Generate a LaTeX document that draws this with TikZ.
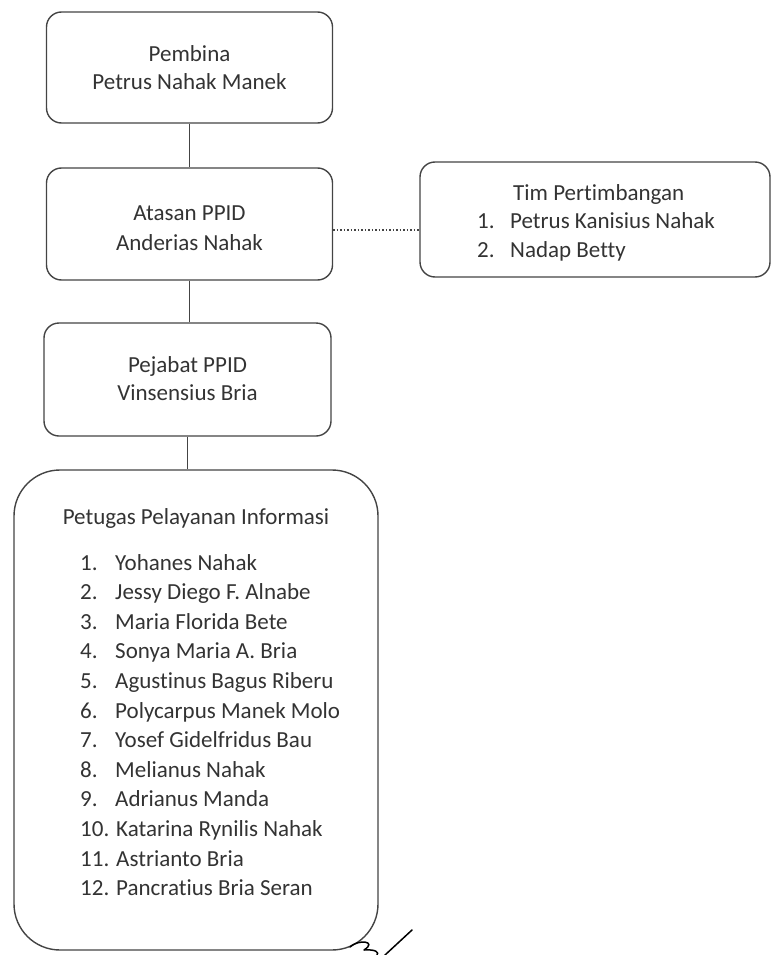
\documentclass[tikz,border=0pt]{standalone}
\usepackage{fontspec}
\setmainfont{Carlito}[Ligatures={NoCommon}]
\definecolor{ink}{HTML}{333333}
\definecolor{edge}{HTML}{444444}
\begin{document}
\begin{tikzpicture}[x=1pt,y=-1pt,
  box/.style={draw=edge, line width=1.4pt, rounded corners=15pt, inner sep=0pt},
  bigbox/.style={draw=edge, line width=1.4pt, rounded corners=46pt, inner sep=0pt},
  txt/.style={anchor=base, text=ink, inner sep=0pt, font=\fontsize{23}{29.6}\selectfont},
  ltxt/.style={txt, anchor=base west},
  conn/.style={draw=edge, line width=0.9pt}]
\useasboundingbox (0,0) rectangle (772,955);

% boxes
\node[box, minimum width=286pt, minimum height=111pt] (pembina) at (189.5,67.5) {};
\node[box, minimum width=286pt, minimum height=112pt] (atasan) at (189.5,224) {};
\node[box, minimum width=350pt, minimum height=115pt] (tim) at (595,219.5) {};
\node[box, minimum width=287pt, minimum height=113pt] (pejabat) at (187.5,379.5) {};
\node[bigbox, minimum width=364pt, minimum height=480pt] (petugas) at (196,710) {};

% texts
\node[txt] (t1a) at (189.5,62) {Pembina};
\node[txt] (t1b) at (189.5,90) {Petrus Nahak Manek};
\node[txt] (t2a) at (189.5,220) {Atasan PPID};
\node[txt] (t2b) at (189.5,250) {Anderias Nahak};
\node[txt] (t4a) at (187.5,372) {Pejabat PPID};
\node[txt] (t4b) at (187.5,400) {Vinsensius Bria};

\node[ltxt] (t3h) at (513,200) {Tim Pertimbangan};
\node[ltxt] (t3n1) at (477,228) {1.};
\node[ltxt] (t3a1) at (510,228) {Petrus Kanisius Nahak};
\node[ltxt] (t3n2) at (477,257) {2.};
\node[ltxt] (t3a2) at (510,257) {Nadap Betty};

\node[txt] (t5h) at (196,524) {Petugas Pelayanan Informasi};
\foreach \i/\name in {1/Yohanes Nahak, 2/Jessy Diego F. Alnabe, 3/Maria Florida Bete, 4/Sonya Maria A. Bria, 5/Agustinus Bagus Riberu, 6/Polycarpus Manek Molo, 7/Yosef Gidelfridus Bau, 8/Melianus Nahak, 9/Adrianus Manda}{
  \node[ltxt] (n\i) at (80,{570+(\i-1)*29.6}) {\i.};
  \node[ltxt] (p\i) at (115,{570+(\i-1)*29.6}) {\name};
}
\foreach \i/\name in {10/Katarina Rynilis Nahak, 11/Astrianto Bria, 12/Pancratius Bria Seran}{
  \node[ltxt] (p\i) at (80,{570+(\i-1)*29.6}) {\i. \name};
}

% connectors
\draw[conn] (pembina.south) -- (atasan.north);
\draw[conn] (atasan.south) -- (pejabat.north -| atasan.south);
\draw[conn] (pejabat.south) -- (pejabat.south |- petugas.north);
\draw[draw=edge, line width=1.3pt, dash pattern=on 1.3pt off 2.2pt] ([yshift=-6pt]atasan.east) -- ([yshift=-6pt]atasan.east -| tim.west);

% handwritten mark
\draw[black, line width=1.5pt, line cap=round, line join=round]
  (350,947) .. controls (358,939) and (378,941) .. (364,950)
  .. controls (377,949) and (379,953) .. (377,955);
\draw[black, line width=1.5pt, line cap=round] (385,955) -- (412,930);
\end{tikzpicture}
\end{document}
